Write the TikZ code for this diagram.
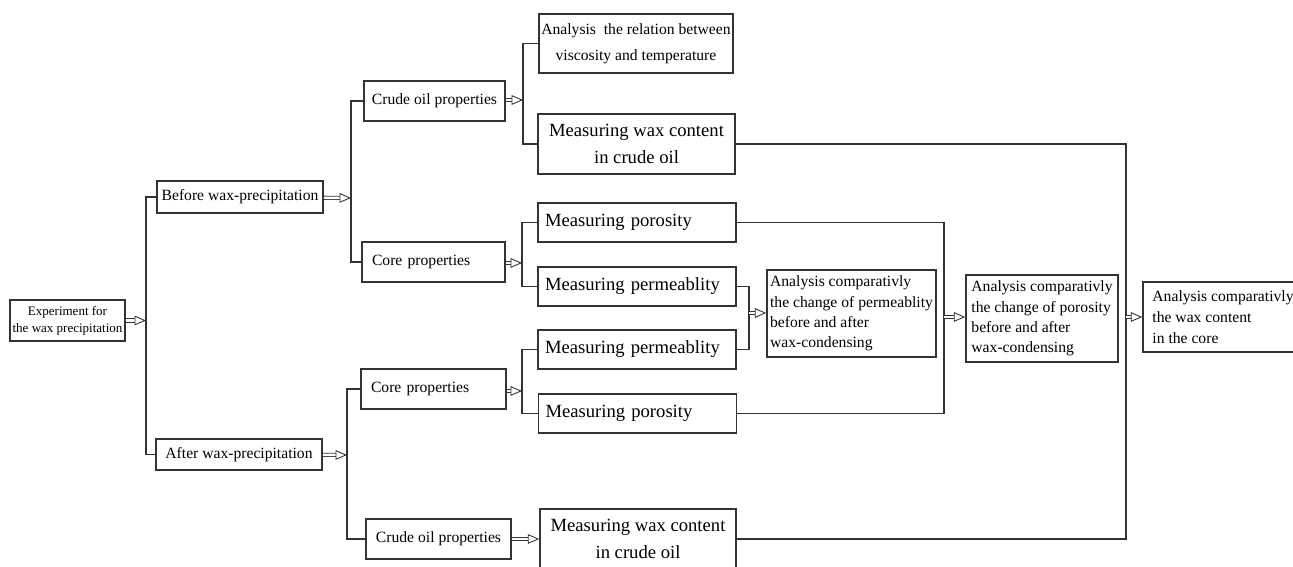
\documentclass[tikz,border=0pt]{standalone}
\usepackage{fontspec}
\setmainfont{Liberation Serif}
\usetikzlibrary{arrows.meta}
\newdimen\pxu \pxu=0.02cm
\newcommand\sizeS{\fontsize{8.9}{11.5}\selectfont}
\newcommand\sizeW{\fontsize{8.9}{14.7}\selectfont}
\newcommand\sizeM{\fontsize{10.6}{15.3}\selectfont}
\newcommand\sizeE{\fontsize{7.4}{9.6}\selectfont}
\begin{document}
\begin{tikzpicture}[x=0.02cm,y=-0.02cm,
    box/.style={draw=black!80,line width=0.9pt,inner sep=0pt,align=center,font=\sizeS},
    bigbox/.style={box,font=\sizeM},
    leftbox/.style={align=left,inner xsep=7\pxu},
    link/.style={draw=black!80,line width=0.75pt},
    dbl/.style={draw=black!80,line width=0.45pt,double,double distance=1.4pt,
      -{Triangle[open,length=6.5pt,width=5.5pt,line width=0.5pt]}}]
    \useasboundingbox (0,0) rectangle (1293,567);
    % left part
    \node[box,font=\sizeE,minimum width=115\pxu,minimum height=41\pxu] (exp) at(67.5,320.5) {Experiment for\\the wax precipitation};
    \node[box,minimum width=166\pxu,minimum height=32\pxu] (before) at(240,197) {Before wax-precipitation};
    \node[box,minimum width=166\pxu,minimum height=31\pxu] (after) at(239,454.5) {After wax-precipitation};
    \node[box,minimum width=141\pxu,minimum height=40\pxu] (crude1) at(434.5,101) {Crude oil properties};
    \node[box,leftbox,inner xsep=10\pxu,text width=123\pxu,minimum height=40\pxu] (core1) at(433.5,262) {Core properties};
    \node[box,leftbox,inner xsep=10\pxu,text width=125\pxu,minimum height=40\pxu] (core2) at(433.5,389) {Core properties};
    \node[box,minimum width=145\pxu,minimum height=40\pxu] (crude2) at(438.5,539) {Crude oil properties};
    % measurements
    \node[box,font=\sizeW,minimum width=194\pxu,minimum height=59\pxu] (visc) at(636,43.5) {Analysis\ \ the relation between\\viscosity and temperature};
    \node[bigbox,minimum width=197\pxu,minimum height=60\pxu] (wax1) at(636.5,144) {Measuring wax content\\in crude oil};
    \node[bigbox,leftbox,text width=184\pxu,minimum height=39\pxu] (por1) at(637,222.5) {Measuring porosity};
    \node[bigbox,leftbox,text width=184\pxu,minimum height=39\pxu] (perm1) at(637,286.5) {Measuring permeablity};
    \node[bigbox,leftbox,text width=184\pxu,minimum height=39\pxu] (perm2) at(637,349.5) {Measuring permeablity};
    \node[bigbox,leftbox,text width=184\pxu,minimum height=39\pxu] (por2) at(637.5,413.5) {Measuring porosity};
    \node[bigbox,minimum width=196\pxu,minimum height=60\pxu] (wax2) at(638,539) {Measuring wax content\\in crude oil};
    % analysis
    \node[box,align=left,minimum width=169\pxu,minimum height=87\pxu] (aperm) at(851.5,313.5) {Analysis comparativly\\the change of permeablity\\before and after\\wax-condensing};
    \node[box,align=left,minimum width=152\pxu,minimum height=87\pxu] (apor) at(1042,318.5) {Analysis comparativly\\the change of porosity\\before and after\\wax-condensing};
    \node[box,align=left,font=\fontsize{8.9}{11.9}\selectfont,minimum width=160\pxu,minimum height=70\pxu] (awax) at(1223,317) {Analysis comparativly\\the wax content\\in the core};
    % forks and joins
    \coordinate (f0) at(146,320.5);
    \coordinate (f1) at(351,198);
    \coordinate (f2) at(347,455);
    \coordinate (f3) at(523,100);
    \coordinate (f4) at(522,263);
    \coordinate (f5) at(522,391);
    \coordinate (j1) at(749,313);
    \coordinate (j2) at(944,317);
    \coordinate (j3) at(1126,317);
    \draw[link] (before.west)-| (f0) |- (after.west);
    \draw[link] (crude1.west)-| (f1) |- (core1.west);
    \draw[link] (core2.west)-| (f2) |- (crude2.west);
    \draw[link] (visc.west)-| (f3) |- (wax1.west);
    \draw[link] (por1.west)-| (f4) |- (perm1.west);
    \draw[link] (perm2.west)-| (f5) |- (por2.west);
    \draw[link] (perm1.east)-| (j1) |- (perm2.east);
    \draw[link] (por1.east)-| (j2) |- (por2.east);
    \draw[link] (wax1.east)-| (j3) |- (wax2.east);
    \draw[dbl] (exp)-- (f0);
    \draw[dbl] (before)-- (f1);
    \draw[dbl] (after)-- (f2);
    \draw[dbl] (crude1.east |- f3)-- (f3);
    \draw[dbl] (core1.east |- f4)-- (f4);
    \draw[dbl] (core2.east |- f5)-- (f5);
    \draw[dbl] (crude2)-- (wax2);
    \draw[dbl] (j1)-- (j1 -| aperm.west);
    \draw[dbl] (j2)-- (j2 -| apor.west);
    \draw[dbl] (j3)-- (j3 -| awax.west);
  \end{tikzpicture}
\end{document}
